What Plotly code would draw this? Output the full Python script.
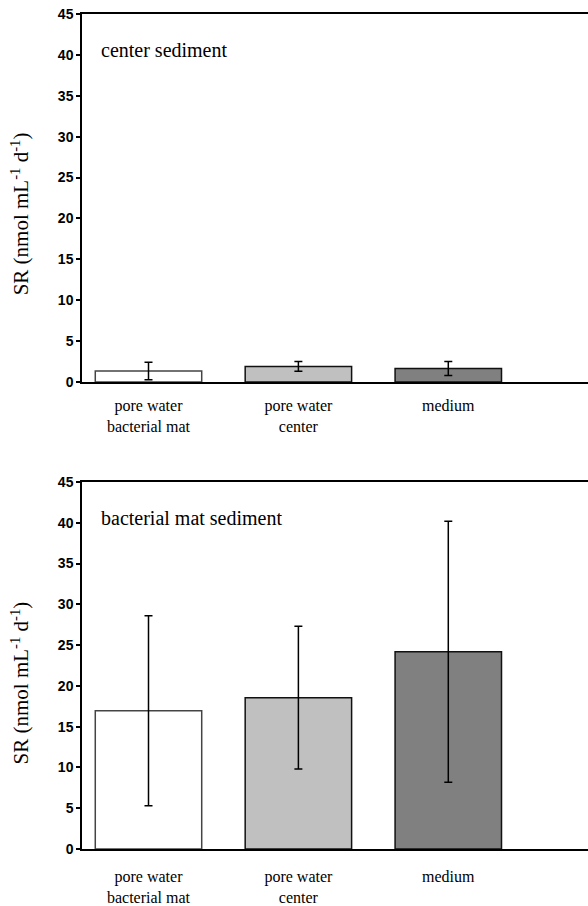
import plotly.graph_objects as go

categories = ["pore water<br>bacterial mat", "pore water<br>center", "medium"]
center_values = [1.33, 1.9, 1.65]
center_errors = [1.07, 0.6, 0.87]
mat_values = [16.95, 18.55, 24.2]
mat_errors = [11.65, 8.75, 16.0]
bar_colors = ["#ffffff", "#c0c0c0", "#808080"]
bar_line_colors = ["#444444", "#111111", "#111111"]
panel_titles = ["center sediment", "bacterial mat sediment"]
y_ticks = [0, 5, 10, 15, 20, 25, 30, 35, 40, 45]
y_title = "SR (nmol mL<sup>-1</sup> d<sup>-1</sup>)"

SERIF = "Times New Roman, Liberation Serif, DejaVu Serif, serif"
SANS = "Arial, Liberation Sans, DejaVu Sans, sans-serif"

xpos = list(range(len(categories)))

fig = go.Figure()

for vals, errs, xa, ya in [(center_values, center_errors, "x", "y"),
                           (mat_values, mat_errors, "x2", "y2")]:
    fig.add_trace(go.Bar(
        x=xpos, y=vals, width=0.71,
        marker=dict(color=bar_colors, line=dict(color=bar_line_colors, width=1.5)),
        error_y=dict(type="data", array=errs, visible=True, color="#000000",
                     thickness=1.5, width=4),
        xaxis=xa, yaxis=ya, showlegend=False,
    ))

xcommon = dict(range=[-0.4436, 2.932], tickvals=xpos, ticktext=categories,
               ticks="", showline=True, linecolor="#000000", linewidth=1.5,
               mirror=True, showgrid=False, zeroline=False,
               tickfont=dict(family=SERIF, size=16, color="#000000"),
               fixedrange=True)
ycommon = dict(range=[0, 45], tickvals=y_ticks, ticktext=["<b>%d</b>" % t for t in y_ticks],
               ticks="outside", ticklen=4,
               tickwidth=1.5, tickcolor="#000000",
               showline=True, linecolor="#000000", linewidth=1.5, mirror=False,
               showgrid=False, zeroline=False,
               tickfont=dict(family=SANS, size=14, color="#000000"))

fig.update_layout(
    width=588, height=906,
    margin=dict(l=82, r=0, t=14, b=57),
    paper_bgcolor="#ffffff", plot_bgcolor="#ffffff",
    font=dict(family=SERIF, color="#000000"),
    xaxis=dict(domain=[0, 1], anchor="y", ticklabelstandoff=8, **xcommon),
    yaxis=dict(domain=[0.5593, 1.0], anchor="x", **ycommon),
    xaxis2=dict(domain=[0, 1], anchor="y2", ticklabelstandoff=12, **xcommon),
    yaxis2=dict(domain=[0.0, 0.4395], anchor="x2", **ycommon),
    bargap=0.29,
)

for title, xr, yr in [(panel_titles[0], "x domain", "y"), (panel_titles[1], "x2 domain", "y2")]:
    fig.add_annotation(text=title, xref=xr, yref=yr, x=0.034, y=40.6,
                       xanchor="left", yanchor="middle", showarrow=False,
                       font=dict(family=SERIF, size=20, color="#000000"))

for yr, yv in [("y", 20.5), ("y2", 20.3)]:
    fig.add_annotation(text=y_title, xref="paper", yref=yr, x=-0.1225, y=yv,
                       xanchor="center", yanchor="middle", textangle=-90,
                       showarrow=False,
                       font=dict(family=SERIF, size=21, color="#000000"))

fig.write_html("out.html")
